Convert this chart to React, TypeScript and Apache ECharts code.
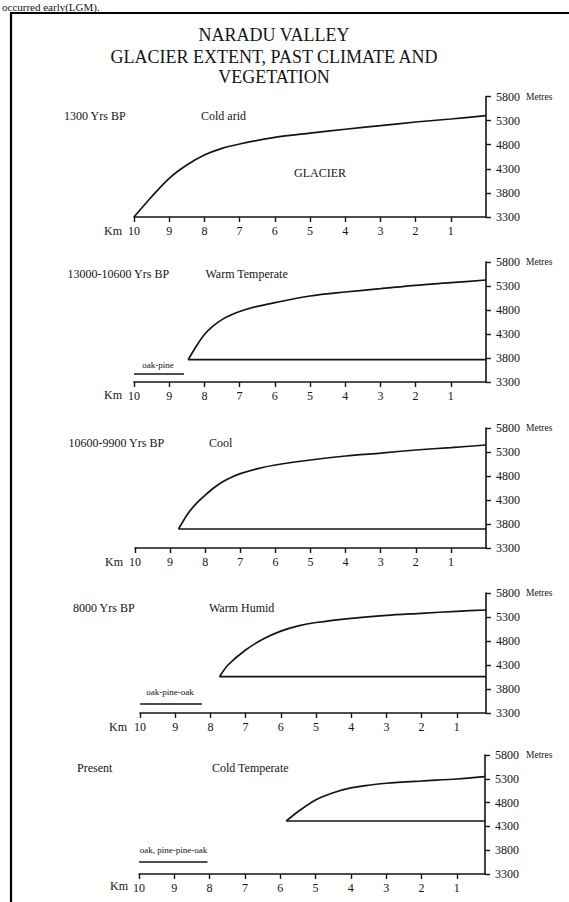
import React, { useEffect, useRef } from "react";
import * as echarts from "echarts";

// ---------- data ----------
const kmTicks = [10, 9, 8, 7, 6, 5, 4, 3, 2, 1];
const metreTicks = [3300, 3800, 4300, 4800, 5300, 5800];
const periods = ["1300 Yrs BP", "13000-10600 Yrs BP", "10600-9900 Yrs BP", "8000 Yrs BP", "Present"];
const climates = ["Cold arid", "Warm Temperate", "Cool", "Warm Humid", "Cold Temperate"];

// glacier surface profiles [km from head, altitude m]; first point = snout
const glacier1 = [[10, 3300], [9.5, 3721], [9, 4103], [8.5, 4379], [8, 4586], [7.5, 4725], [7, 4815], [6, 4953], [5, 5040], [4, 5120], [3, 5195], [2, 5271], [1, 5333], [0, 5402]];
const glacier2 = [[8.46, 3765], [8.2, 4080], [8, 4290], [7.75, 4470], [7.5, 4600], [7.25, 4695], [7, 4770], [6.5, 4875], [6, 4952], [5, 5092], [4, 5175], [3, 5244], [2, 5315], [1, 5369], [0, 5425]];
const glacier3 = [[8.76, 3696], [8.5, 4010], [8.25, 4230], [8, 4400], [7.75, 4555], [7.5, 4680], [7.25, 4775], [7, 4850], [6.5, 4955], [6, 5029], [5, 5133], [4, 5217], [3, 5278], [2, 5342], [1, 5392], [0, 5446]];
const glacier4 = [[7.74, 4056], [7.5, 4300], [7, 4613], [6.5, 4840], [6, 5005], [5.5, 5115], [5, 5185], [4, 5273], [3, 5335], [2, 5377], [1, 5419], [0.17, 5446]];
const glacier5 = [[5.83, 4413], [5.5, 4609], [5, 4855], [4.5, 5008], [4, 5108], [3.5, 5165], [3, 5206], [2, 5254], [1, 5296], [0.2, 5345]];
const glaciers = [glacier1, glacier2, glacier3, glacier4, glacier5];
const axisMinKm = [0, 0, 0, 0.17, 0.2];

// vegetation belts
const vegLabels = [null, "oak-pine", null, "oak-pine-oak", "oak, pine-pine-oak"];
const vegKmStart = [null, 10, null, 10, 10];
const vegKmEnd = [null, 8.58, null, 8.24, 8.06];
const vegAlt = [null, 3467, null, 3488, 3552];

const titleLines = ["NARADU VALLEY", "GLACIER EXTENT, PAST CLIMATE AND", "VEGETATION"];

// ---------- layout (pixels) ----------
const layout = [
  { left: 134, right: 83, top: 96.5, height: 120.5, periodX: 64, climateX: 201, labelY: 116, kmX: 122, kmY: 231, vegX: 0, vegY: 0 },
  { left: 134, right: 83, top: 262, height: 120, periodX: 67.5, climateX: 205.5, labelY: 274, kmX: 122, kmY: 395, vegX: 158, vegY: 365 },
  { left: 135, right: 83, top: 428, height: 120, periodX: 68.5, climateX: 209, labelY: 443, kmX: 123, kmY: 562, vegX: 0, vegY: 0 },
  { left: 140, right: 83, top: 593, height: 120, periodX: 73, climateX: 209, labelY: 608, kmX: 127, kmY: 727, vegX: 170, vegY: 692 },
  { left: 139, right: 84, top: 755, height: 119, periodX: 77, climateX: 212, labelY: 768, kmX: 128, kmY: 886, vegX: 173.5, vegY: 850 },
];

const SERIF = '"Liberation Serif", "Times New Roman", serif';
const INK = "#141414";

function buildOption() {
  const grid: any[] = [];
  const xAxis: any[] = [];
  const yAxis: any[] = [];
  const series: any[] = [];
  const graphic: any[] = [];

  // frame + text remnant from the page above
  graphic.push({ type: "line", shape: { x1: 11, y1: 13, x2: 11, y2: 902 }, style: { stroke: "#000", lineWidth: 2.2 } });
  graphic.push({ type: "line", shape: { x1: 10, y1: 13, x2: 569, y2: 13 }, style: { stroke: "#000", lineWidth: 2.2 } });
  graphic.push({ type: "text", x: 2, y: 1, style: { text: "occurred early(LGM).", font: `11px ${SERIF}`, fill: INK, textAlign: "left", textVerticalAlign: "top" } });

  const titleY = [35, 57, 77];
  titleLines.forEach((t, i) => {
    graphic.push({ type: "text", x: 274, y: titleY[i], style: { text: t, font: `18px ${SERIF}`, fill: INK, textAlign: "center", textVerticalAlign: "middle" } });
  });

  glaciers.forEach((g, i) => {
    const L = layout[i];
    grid.push({ left: L.left, right: L.right, top: L.top, height: L.height, containLabel: false });
    xAxis.push({
      type: "value", gridIndex: i, inverse: true, min: axisMinKm[i], max: 10,
      axisLine: { show: true, onZero: false, lineStyle: { color: INK, width: 1.6 } },
      axisTick: { show: true, length: 5, customValues: kmTicks, lineStyle: { color: INK, width: 1.4 } },
      axisLabel: { show: true, customValues: kmTicks, margin: 8, color: INK, fontFamily: SERIF, fontSize: 12, formatter: (v: number) => String(v) },
      splitLine: { show: false },
    });
    yAxis.push({
      type: "value", gridIndex: i, position: "right", min: 3300, max: 5800,
      axisLine: { show: true, onZero: false, lineStyle: { color: INK, width: 1.6 } },
      axisTick: { show: true, length: 5, customValues: metreTicks, lineStyle: { color: INK, width: 1.4 } },
      axisLabel: { show: true, customValues: metreTicks, margin: 10, color: INK, fontFamily: SERIF, fontSize: 12, formatter: (v: number) => String(v) },
      splitLine: { show: false },
    });

    series.push({
      type: "line", xAxisIndex: i, yAxisIndex: i, data: g, smooth: 0.3, symbol: "none", clip: false,
      lineStyle: { color: INK, width: 1.7 },
    });
    const snout = g[0];
    if (snout[1] > 3300) {
      series.push({
        type: "line", xAxisIndex: i, yAxisIndex: i, data: [[snout[0], snout[1]], [axisMinKm[i], snout[1]]],
        symbol: "none", clip: false, lineStyle: { color: INK, width: 1.7 },
      });
    }
    if (vegLabels[i]) {
      series.push({
        type: "line", xAxisIndex: i, yAxisIndex: i, data: [[vegKmStart[i], vegAlt[i]], [vegKmEnd[i], vegAlt[i]]],
        symbol: "none", clip: false, lineStyle: { color: INK, width: 1.6 },
      });
      graphic.push({ type: "text", x: L.vegX, y: L.vegY, style: { text: vegLabels[i], font: `9px ${SERIF}`, fill: INK, textAlign: "center", textVerticalAlign: "middle" } });
    }

    graphic.push({ type: "text", x: L.periodX, y: L.labelY, style: { text: periods[i], font: `12px ${SERIF}`, fill: INK, textAlign: "left", textVerticalAlign: "middle" } });
    graphic.push({ type: "text", x: L.climateX, y: L.labelY, style: { text: climates[i], font: `12px ${SERIF}`, fill: INK, textAlign: "left", textVerticalAlign: "middle" } });
    graphic.push({ type: "text", x: L.kmX, y: L.kmY, style: { text: "Km", font: `12px ${SERIF}`, fill: INK, textAlign: "right", textVerticalAlign: "middle" } });
    graphic.push({ type: "text", x: 526, y: L.top, style: { text: "Metres", font: `9.5px ${SERIF}`, fill: INK, textAlign: "left", textVerticalAlign: "middle" } });
  });

  graphic.push({ type: "text", x: 294, y: 173, style: { text: "GLACIER", font: `12px ${SERIF}`, fill: INK, textAlign: "left", textVerticalAlign: "middle" } });

  return { animation: false, backgroundColor: "#ffffff", grid, xAxis, yAxis, series, graphic };
}

export default function App() {
  const ref = useRef<HTMLDivElement>(null);
  useEffect(() => {
    document.body.style.margin = "0";
    if (!ref.current) return;
    const chart = echarts.init(ref.current, null, { renderer: "svg" });
    chart.setOption(buildOption());
    return () => chart.dispose();
  }, []);
  return <div ref={ref} style={{ width: 569, height: 902 }} />;
}
